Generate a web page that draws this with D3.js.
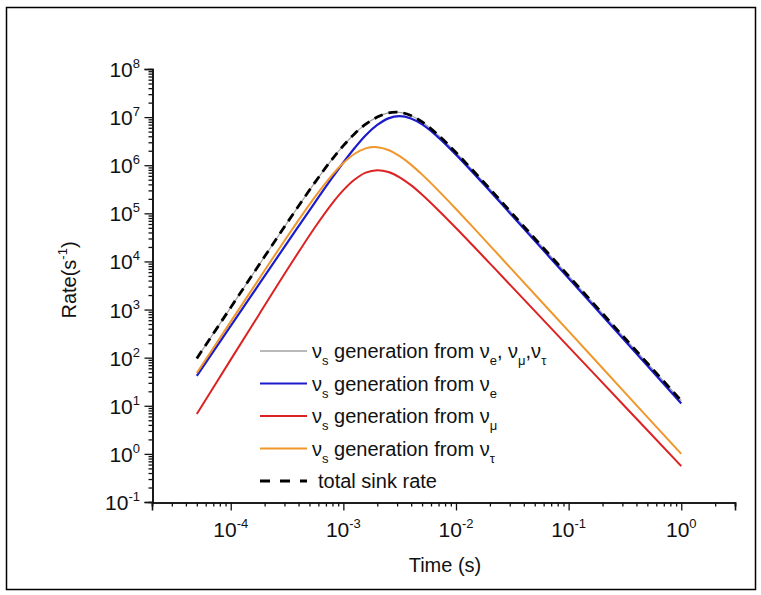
<!DOCTYPE html>
<html><head><meta charset="utf-8">
<script src="https://cdn.jsdelivr.net/npm/d3@7"></script>
<style>
html,body{margin:0;padding:0;background:#fff;}
svg{display:block;font-family:"Liberation Sans",Arial,sans-serif;}
</style></head>
<body><svg id="c" width="761" height="595"></svg>
<script>
// ---- data ----
const times = [5e-5, 1e-4, 1.78e-4, 3.16e-4, 5.62e-4, 7.94e-4, 1e-3, 1.26e-3, 1.58e-3, 2e-3, 2.51e-3, 3.16e-3, 3.98e-3, 5.01e-3, 7.08e-3, 1e-2, 1.78e-2, 3.16e-2, 0.1, 0.316, 1];
const allFlavours = [96.5, 1107, 8403, 6.30e4, 4.46e5, 1.33e6, 2.55e6, 4.52e6, 7.15e6, 1.00e7, 1.22e7, 1.255e7, 1.08e7, 7.93e6, 4.07e6, 1.83e6, 4.34e5, 9.85e4, 4993, 252.5, 12.76];
const fromE   = [41.8, 456, 3320, 2.41e4, 1.72e5, 5.45e5, 1.14e6, 2.28e6, 4.21e6, 6.87e6, 9.42e6, 1.045e7, 9.38e6, 7.05e6, 3.67e6, 1.66e6, 3.93e5, 8.89e4, 4470, 224, 11.2];
const fromMu  = [6.76, 91.0, 783, 6.64e3, 5.21e4, 1.60e5, 3.04e5, 5.05e5, 7.01e5, 7.89e5, 7.24e5, 5.61e5, 3.85e5, 2.43e5, 1.12e5, 4.95e4, 1.21e4, 2.92e3, 168, 9.68, 0.557];
const fromTau = [47.9, 560, 4300, 3.23e4, 2.22e5, 6.25e5, 1.11e6, 1.73e6, 2.24e6, 2.37e6, 2.07e6, 1.54e6, 1.03e6, 6.37e5, 2.86e5, 1.23e5, 2.88e4, 6.68e3, 355, 18.8, 1.0];
const totalSink = [96.5, 1107, 8403, 6.30e4, 4.46e5, 1.33e6, 2.55e6, 4.52e6, 7.15e6, 1.00e7, 1.22e7, 1.255e7, 1.08e7, 7.93e6, 4.07e6, 1.83e6, 4.34e5, 9.85e4, 4993, 252.5, 12.76];

const xMajor = [1e-4, 1e-3, 1e-2, 1e-1, 1];
const xExp = ["-4", "-3", "-2", "-1", "0"];
const yMajor = [1e-1, 1, 1e1, 1e2, 1e3, 1e4, 1e5, 1e6, 1e7, 1e8];
const yExp = ["-1", "0", "1", "2", "3", "4", "5", "6", "7", "8"];

const seriesNames = ["all", "e", "mu", "tau", "total"];
const legendMain = ["generation from ", "generation from ", "generation from ", "generation from ", "total sink rate"];

// ---- drawing ----
const svg = d3.select("#c");
const ink = "#111";

svg.append("rect").attr("x", 6.5).attr("y", 7.5).attr("width", 749).attr("height", 582)
  .attr("fill", "none").attr("stroke", "#000").attr("stroke-width", 1.5);

const x = d3.scaleLog().domain([2e-5, 3]).range([152, 735]);
const y = d3.scaleLog().domain([0.1, 1e8]).range([502, 69]);

// axes
const xMinor = x.ticks().filter(v => !xMajor.some(m => Math.abs(m - v) / m < 1e-6));
const yMinor = y.ticks().filter(v => !yMajor.some(m => Math.abs(m - v) / m < 1e-6));

const gx = svg.append("g").attr("transform", "translate(0,502.5)");
gx.call(d3.axisBottom(x).tickValues(xMajor).tickSize(8).tickFormat(""));
gx.append("g").call(d3.axisBottom(x).tickValues(xMinor).tickSize(4).tickFormat(""));
gx.selectAll(".domain").attr("stroke", ink).attr("stroke-width", 1.6);
gx.selectAll(".tick line").attr("stroke", ink).attr("stroke-width", 1.3);

const gy = svg.append("g").attr("transform", "translate(152.5,0)");
gy.call(d3.axisLeft(y).tickValues(yMajor).tickSize(8).tickFormat(""));
gy.append("g").call(d3.axisLeft(y).tickValues(yMinor).tickSize(4).tickFormat(""));
gy.selectAll(".domain").attr("stroke", ink).attr("stroke-width", 1.6);
gy.selectAll(".tick line").attr("stroke", ink).attr("stroke-width", 1.3);

// tick labels
const xl = svg.append("g").selectAll("text").data(xMajor).join("text")
  .attr("x", d => x(d)).attr("y", 537).attr("text-anchor", "middle")
  .attr("font-size", 21).attr("fill", ink);
xl.append("tspan").text("10");
xl.append("tspan").attr("font-size", 13).attr("dy", -9).text((d, i) => xExp[i]);

const yl = svg.append("g").selectAll("text").data(yMajor).join("text")
  .attr("x", 140).attr("y", d => y(d) + 8).attr("text-anchor", "end")
  .attr("font-size", 21).attr("fill", ink);
yl.append("tspan").text("10");
yl.append("tspan").attr("font-size", 13).attr("dy", -9).text((d, i) => yExp[i]);

// axis titles
svg.append("text").attr("x", 445).attr("y", 572).attr("text-anchor", "middle")
  .attr("font-size", 20).attr("fill", ink).text("Time (s)");
const yt = svg.append("text").attr("transform", "translate(76,280) rotate(-90)")
  .attr("text-anchor", "middle").attr("font-size", 20).attr("fill", ink);
yt.append("tspan").text("Rate(s");
yt.append("tspan").attr("font-size", 13).attr("dy", -9).text("-1");
yt.append("tspan").attr("dy", 9).text(")");

// curves
const data = {all: allFlavours, e: fromE, mu: fromMu, tau: fromTau, total: totalSink};
const style = {
  all:   {stroke: "#a0a0a0", w: 1.2, dash: null},
  e:     {stroke: "#1c1ccc", w: 2.2, dash: null},
  mu:    {stroke: "#dc2222", w: 2.0, dash: null},
  tau:   {stroke: "#f0962a", w: 2.0, dash: null},
  total: {stroke: "#000000", w: 2.8, dash: "9,6"}
};
const line = d3.line().x(d => x(d[0])).y(d => y(d[1])).curve(d3.curveCatmullRom.alpha(0.5));
const drawOrder = ["all", "e", "mu", "tau", "total"];
drawOrder.forEach(k => {
  const pts = times.map((t, i) => [t, data[k][i]]);
  svg.append("path").attr("d", line(pts)).attr("fill", "none")
    .attr("stroke", style[k].stroke).attr("stroke-width", style[k].w)
    .attr("stroke-dasharray", style[k].dash).attr("stroke-linejoin", "round");
});

// legend
const rowY = [351, 383.5, 416, 448.5, 481];
const subs = [["e", "μ", "τ"], ["e"], ["μ"], ["τ"], null];
seriesNames.forEach((k, i) => {
  const ly = rowY[i];
  svg.append("line").attr("x1", 260).attr("x2", 307).attr("y1", ly).attr("y2", ly)
    .attr("stroke", style[k].stroke).attr("stroke-width", k === "all" ? 1.6 : style[k].w)
    .attr("stroke-dasharray", k === "total" ? "10,10" : null);
  const t = svg.append("text").attr("x", k === "total" ? 318 : 312).attr("y", ly + 7)
    .attr("font-size", 20).attr("fill", ink);
  if (k === "total") { t.text(legendMain[i]); return; }
  t.append("tspan").text("ν");
  t.append("tspan").attr("font-size", 13).attr("dy", 7).text("s");
  t.append("tspan").attr("dy", -7).text(" " + legendMain[i] + "ν");
  const s = subs[i];
  s.forEach((sub, j) => {
    t.append("tspan").attr("font-size", 13).attr("dy", 7).text(sub);
    if (j < s.length - 1) t.append("tspan").attr("dy", -7).text(j === 0 ? ", ν" : ",ν");
  });
});
</script></body></html>
